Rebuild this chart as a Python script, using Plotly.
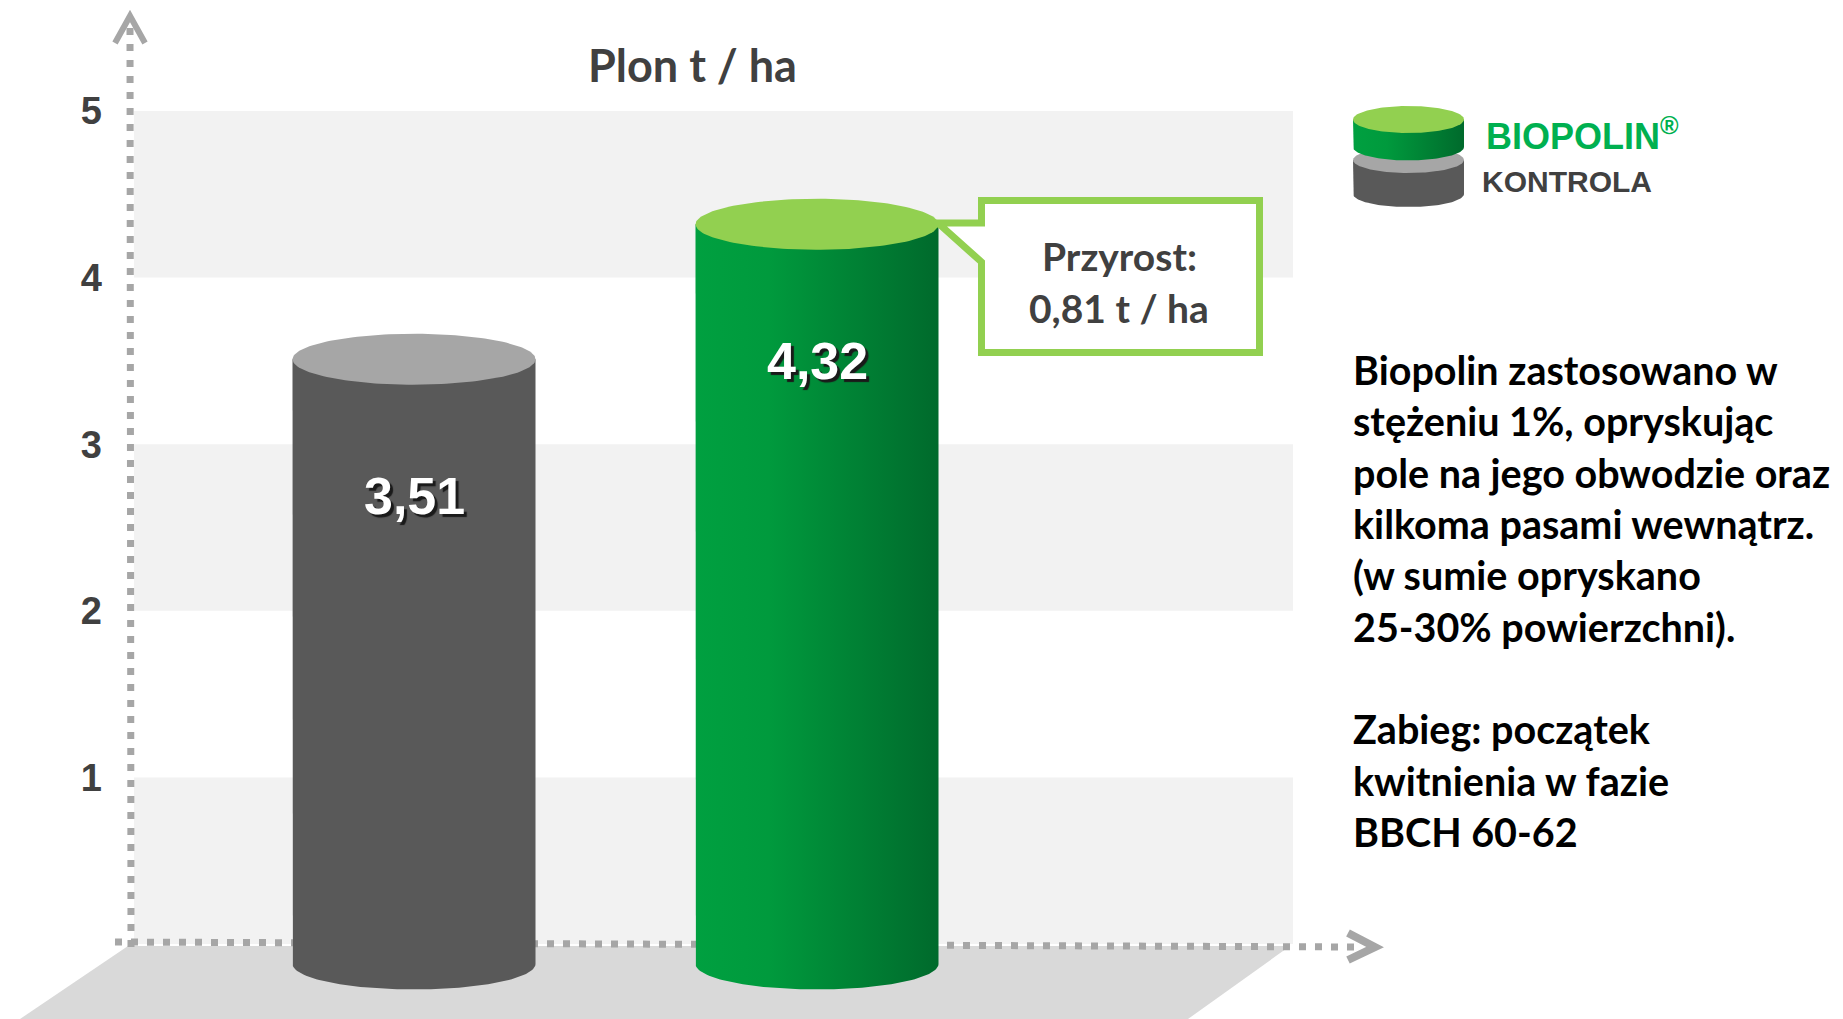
import numpy as np
import plotly.graph_objects as go

# data
CATEGORIES = ["KONTROLA", "BIOPOLIN®"]
VALUES = [3.51, 4.32]
VALUE_LABELS = ["3,51", "4,32"]
Y_TICKS = [1, 2, 3, 4, 5]
TITLE = "Plon t / ha"
GAIN_LINES = ["Przyrost:", "0,81 t / ha"]
NOTE_LINES = [
    "Biopolin zastosowano w",
    "stężeniu 1%, opryskując",
    "pole na jego obwodzie oraz",
    "kilkoma pasami wewnątrz.",
    "(w sumie opryskano",
    "25-30% powierzchni).",
    "",
    "Zabieg: początek",
    "kwitnienia w fazie",
    "BBCH 60-62",
]

W, H = 1843, 1019
# pixel <-> data mapping (plot area = whole figure)
X0, XU = 414, 403
Y0, YU = 944, 166.6


def dx(px):
    return (px - X0) / XU


def dy(py):
    return (Y0 - py) / YU


GREEN_GRAD = [[0, "#00a040"], [0.3, "#009a3d"], [1, "#006a2c"]]
BODY = ["#595959", None]
CAP = ["#a6a6a6", "#92d050"]
AXIS_GREY = "#a6a6a6"
TEXT_GREY = "#404040"

RX = 121.5 / XU
RY = 25.5 / YU
BASE = dy(964)

fig = go.Figure()


def cylinder(xc, top, base, rx, ry, body, cap, grad=None):
    t = np.linspace(np.pi, 0, 80)
    xs = [xc - rx] + list(xc + rx * np.cos(t)) + [xc + rx, xc - rx]
    ys = [top] + list(base - ry * np.sin(t)) + [top, top]
    kw = dict(fillgradient=dict(type="horizontal", colorscale=grad)) if grad else dict(fillcolor=body)
    fig.add_trace(go.Scatter(x=xs, y=ys, mode="lines", fill="toself", line=dict(width=0, color=body or "#009a3d"),
                             hoverinfo="skip", showlegend=False, **kw))
    a = np.linspace(0, 2 * np.pi, 160)
    fig.add_trace(go.Scatter(x=xc + rx * np.cos(a), y=top + ry * np.sin(a), mode="lines", fill="toself",
                             fillcolor=cap, line=dict(width=0, color=cap), hoverinfo="skip", showlegend=False))


for i, v in enumerate(VALUES):
    cylinder(i, v, BASE, RX, RY, BODY[i], CAP[i], GREEN_GRAD if BODY[i] is None else None)

# legend icons
lx, lrx = dx(1408.5), 55.5 / XU
cylinder(lx, dy(160), dy(194), lrx, 13 / YU, BODY[0], CAP[0])
cylinder(lx, dy(119.5), dy(147), lrx, 13.5 / YU, None, CAP[1], GREEN_GRAD)

shapes = []
for lo in (0, 2, 4):
    shapes.append(dict(type="rect", xref="x", yref="y", x0=dx(134), x1=dx(1293), y0=lo, y1=lo + 1,
                       fillcolor="#f2f2f2", line=dict(width=0), layer="below"))


def path(points):
    return "M " + " L ".join(f"{dx(a)},{dy(b)}" for a, b in points)


shapes.append(dict(type="path", xref="x", yref="y", layer="below", fillcolor="#d9d9d9", line=dict(width=0),
                   path=path([(128, 946), (1290, 946), (1188, 1019), (20, 1019)]) + " Z"))
# dotted axes
shapes.append(dict(type="line", xref="x", yref="y", x0=dx(130), y0=dy(28), x1=dx(131), y1=dy(950),
                   line=dict(color=AXIS_GREY, width=7, dash="7px,9px"), layer="below"))
shapes.append(dict(type="line", xref="x", yref="y", x0=dx(115), y0=dy(942), x1=dx(1360), y1=dy(947),
                   line=dict(color=AXIS_GREY, width=7, dash="7px,9px"), layer="below"))
shapes.append(dict(type="path", xref="x", yref="y", layer="below", line=dict(color=AXIS_GREY, width=6),
                   path=path([(115, 43), (130, 16), (145, 43)])))
shapes.append(dict(type="path", xref="x", yref="y", layer="below", line=dict(color=AXIS_GREY, width=8),
                   path=path([(1348, 933), (1375, 947), (1348, 960)])))
# callout
shapes.append(dict(type="path", xref="x", yref="y", layer="above", fillcolor="white",
                   line=dict(color="#92d050", width=7),
                   path=path([(981.5, 200.5), (1259.5, 200.5), (1259.5, 352.5), (981.5, 352.5),
                              (981.5, 262), (938, 223), (981.5, 223)]) + " Z"))

annotations = [
    dict(x=dx(692), y=dy(65), text=TITLE, showarrow=False, xanchor="center", yanchor="middle",
         font=dict(family="Lato", size=45, weight="bold", color=TEXT_GREY)),
    dict(x=dx(1484), y=dy(134), text="BIOPOLIN<sup>®</sup>", showarrow=False, xanchor="left", yanchor="middle",
         font=dict(family="Liberation Sans", size=36, weight="bold", color="#00b050")),
    dict(x=dx(1480), y=dy(181), text="KONTROLA", showarrow=False, xanchor="left", yanchor="middle",
         font=dict(family="Liberation Sans", size=30, weight="bold", color=TEXT_GREY)),
    dict(x=dx(1119), y=dy(256), text=GAIN_LINES[0], showarrow=False, xanchor="center", yanchor="middle",
         font=dict(family="Lato", size=39, weight="bold", color=TEXT_GREY)),
    dict(x=dx(1119), y=dy(308), text=GAIN_LINES[1], showarrow=False, xanchor="center", yanchor="middle",
         font=dict(family="Lato", size=39, weight="bold", color=TEXT_GREY)),
    dict(x=dx(1351), y=dy(600), text="<br>".join(NOTE_LINES), showarrow=False, xanchor="left", yanchor="middle",
         align="left", font=dict(family="Lato", size=39.5, weight="bold", color="black")),
]
for i, (v, lab) in enumerate(zip(VALUES, VALUE_LABELS)):
    annotations.append(dict(x=i, y=v - 0.82, text=lab, showarrow=False, xanchor="center", yanchor="middle",
                            font=dict(family="Liberation Sans", size=52, weight="bold", color="white",
                                      shadow="3px 3px 1px #1a1a1a")))

fig.update_layout(
    width=W, height=H,
    margin=dict(l=0, r=0, t=0, b=0),
    paper_bgcolor="white", plot_bgcolor="white",
    showlegend=False,
    shapes=shapes,
    annotations=annotations,
    xaxis=dict(range=[dx(0), dx(W)], visible=False, fixedrange=True),
    yaxis=dict(range=[dy(H), dy(0)], anchor="free", position=130 / W, showgrid=False, zeroline=False,
               showline=False, ticks="", tickvals=Y_TICKS, ticklabelstandoff=28, fixedrange=True,
               tickfont=dict(family="Liberation Sans", size=38, weight="bold", color=TEXT_GREY)),
)

# page body has a default 8px margin; drop it so the figure fills the window
fig.write_html("out.html", config={"displayModeBar": False},
               post_script="document.body.style.margin='0px';")
